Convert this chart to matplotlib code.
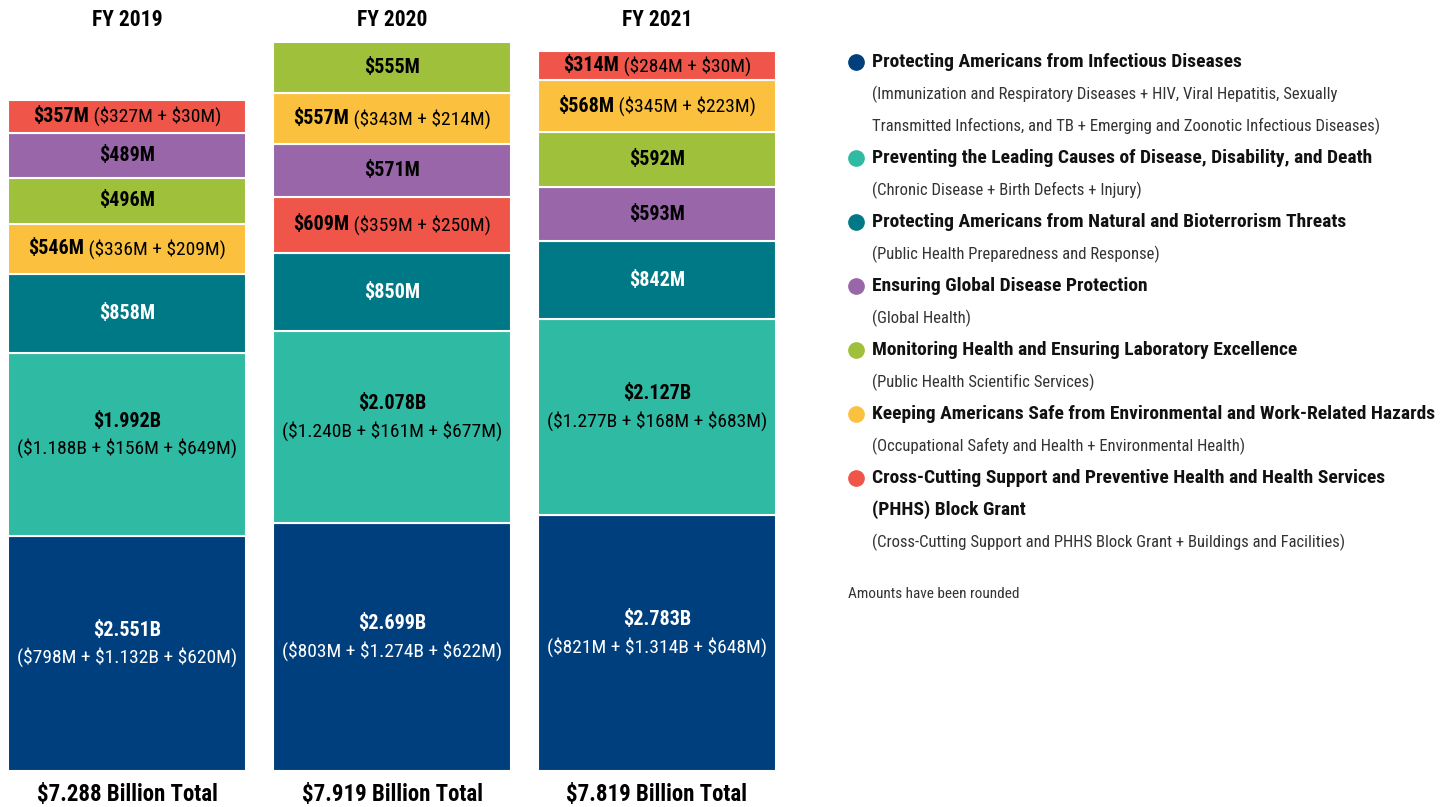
import matplotlib
matplotlib.use('Agg')
import matplotlib.pyplot as plt
from matplotlib import font_manager as fm
from matplotlib.transforms import offset_copy

names = {f.name for f in fm.fontManager.ttflist}
cond = [n for n in ['Liberation Sans Narrow', 'DejaVu Sans Condensed', 'Roboto Condensed']
        if n in names]
FAM = cond[:1] + ['DejaVu Sans']
plt.rcParams['font.family'] = FAM

# ---------------- data ----------------
years = ['FY 2019', 'FY 2020', 'FY 2021']
totals = ['$7.288 Billion Total', '$7.919 Billion Total', '$7.819 Billion Total']
categories = ['Infectious', 'Leading Causes', 'Threats', 'Global',
              'Monitoring', 'Environmental', 'Cross-Cutting']
colors = ['#003f7d', '#2fbaa3', '#007986', '#9866a9', '#9fc03b', '#fbc13e', '#ef5549']
text_colors = ['white', 'black', 'white', 'black', 'black', 'black', 'black']

values_2019 = [2551, 1992, 858, 489, 496, 546, 357]
values_2020 = [2699, 2078, 850, 571, 555, 557, 609]
values_2021 = [2783, 2127, 842, 593, 592, 568, 314]

breakdown_2019 = ['$798M + $1.132B + $620M', '$1.188B + $156M + $649M', '', '', '',
                  '$336M + $209M', '$327M + $30M']
breakdown_2020 = ['$803M + $1.274B + $622M', '$1.240B + $161M + $677M', '', '', '',
                  '$343M + $214M', '$359M + $250M']
breakdown_2021 = ['$821M + $1.314B + $648M', '$1.277B + $168M + $683M', '', '', '',
                  '$345M + $223M', '$284M + $30M']

all_values = [values_2019, values_2020, values_2021]
all_breakdowns = [breakdown_2019, breakdown_2020, breakdown_2021]

legend_titles = [
    ['Protecting Americans from Infectious Diseases'],
    ['Preventing the Leading Causes of Disease, Disability, and Death'],
    ['Protecting Americans from Natural and Bioterrorism Threats'],
    ['Ensuring Global Disease Protection'],
    ['Monitoring Health and Ensuring Laboratory Excellence'],
    ['Keeping Americans Safe from Environmental and Work-Related Hazards'],
    ['Cross-Cutting Support and Preventive Health and Health Services', '(PHHS) Block Grant'],
]
legend_subs = [
    ['(Immunization and Respiratory Diseases + HIV, Viral Hepatitis, Sexually',
     'Transmitted Infections, and TB + Emerging and Zoonotic Infectious Diseases)'],
    ['(Chronic Disease + Birth Defects + Injury)'],
    ['(Public Health Preparedness and Response)'],
    ['(Global Health)'],
    ['(Public Health Scientific Services)'],
    ['(Occupational Safety and Health + Environmental Health)'],
    ['(Cross-Cutting Support and PHHS Block Grant + Buildings and Facilities)'],
]
note = 'Amounts have been rounded'


def fmt(v):
    return f'${v/1000:.3f}B' if v >= 1000 else f'${v}M'


# ---------------- figure ----------------
W, H = 1440, 807
fig = plt.figure(figsize=(W / 100, H / 100), dpi=100)
fig.patch.set_facecolor('white')

# px per $M : FY2019 (7289) spans 671 px
pxm = 671 / 7289.0
ybot_px = 771
ax = fig.add_axes([0, (H - ybot_px) / H, 800 / W, ybot_px / H])
ax.set_ylim(0, ybot_px / pxm)
sp = 265.0
ax.set_xlim(-127 / sp, (800 - 127) / sp)
ax.axis('off')
bw = 238 / sp

renderer = fig.canvas.get_renderer()
FSB = 14.5
FSR = 14

for i, (vals, bds) in enumerate(zip(all_values, all_breakdowns)):
    order = sorted(range(len(vals)), key=lambda k: -vals[k])
    bottom = 0
    for k in order:
        v = vals[k]
        ax.bar(i, v, bottom=bottom, width=bw, color=colors[k],
               edgecolor='white', linewidth=1.5)
        cy = bottom + v / 2
        tc = text_colors[k]
        if k in (0, 1):
            tr1 = offset_copy(ax.transData, fig=fig, x=0, y=23, units='dots')
            tr2 = offset_copy(ax.transData, fig=fig, x=0, y=-4, units='dots')
            ax.text(i, cy, fmt(v), transform=tr1, ha='center', va='center',
                    fontsize=FSB, fontweight='bold', color=tc, parse_math=False)
            ax.text(i, cy, '(' + bds[k] + ')', transform=tr2, ha='center', va='center',
                    fontsize=FSR, color=tc, parse_math=False)
        elif bds[k]:
            t1 = ax.text(i, cy, fmt(v), ha='left', va='center', fontsize=FSB,
                         fontweight='bold', color=tc, parse_math=False)
            t2 = ax.text(i, cy, ' (' + bds[k] + ')', ha='left', va='center',
                         fontsize=FSR, color=tc, parse_math=False)
            w1 = t1.get_window_extent(renderer).width
            w2 = t2.get_window_extent(renderer).width
            tot = w1 + w2
            t1.set_transform(offset_copy(ax.transData, fig=fig, x=-tot / 2, y=0, units='dots'))
            t2.set_transform(offset_copy(ax.transData, fig=fig, x=-tot / 2 + w1, y=0, units='dots'))
        else:
            ax.text(i, cy, fmt(v), ha='center', va='center', fontsize=FSB,
                    fontweight='bold', color=tc, parse_math=False)
        bottom += v

# overlay axes in pixel coordinates for titles / legend
ov = fig.add_axes([0, 0, 1, 1], zorder=5)
ov.set_xlim(0, W)
ov.set_ylim(H, 0)
ov.axis('off')
ov.patch.set_alpha(0)

centers = [127, 392, 657]
for cx, yr, tt in zip(centers, years, totals):
    ov.text(cx, 20, yr, ha='center', va='center', fontsize=15.5, fontweight='bold',
            color='black', parse_math=False)
    ov.text(cx, 795, tt, ha='center', va='center', fontsize=16.5, fontweight='bold',
            color='black', parse_math=False)

y = 62
LS = 32
for col, titles, subs in zip(colors, legend_titles, legend_subs):
    ov.plot([856], [y], marker='o', markersize=11, color=col, linestyle='none')
    for t in titles:
        ov.text(872, y, t, ha='left', va='center', fontsize=14, fontweight='bold',
                color='#111111', parse_math=False)
        y += LS
    for s in subs:
        ov.text(872, y, s, ha='left', va='center', fontsize=12, color='#333333',
                parse_math=False)
        y += LS

ov.text(848, 594, note, ha='left', va='center', fontsize=11, color='#333333')

fig.savefig('out.png', dpi=100, facecolor='white')
